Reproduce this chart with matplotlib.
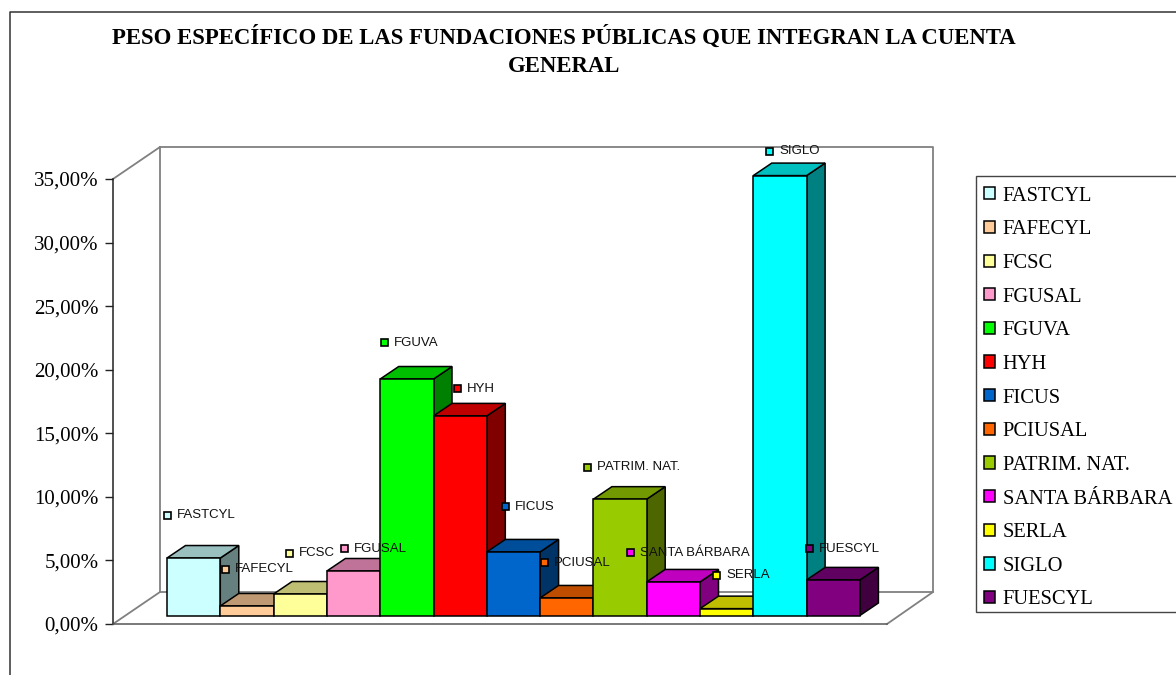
import matplotlib
matplotlib.use("Agg")
import matplotlib.pyplot as plt
import matplotlib.colors as mcolors
from matplotlib.patches import Rectangle

W, H = 1176, 675

# Values (percent)
names = ["FASTCYL", "FAFECYL", "FCSC", "FGUSAL", "FGUVA", "HYH", "FICUS",
         "PCIUSAL", "PATRIM. NAT.", "SANTA BÁRBARA", "SERLA", "SIGLO", "FUESCYL"]
values = [4.52, 0.75, 1.69, 3.50, 18.6, 15.7, 5.0, 1.38, 9.15, 2.64, 0.54, 34.6, 2.8]
colors = ["#CCFFFF", "#FFCC99", "#FFFF99", "#FF99CC", "#00FF00", "#FF0000", "#0066CC",
          "#FF6600", "#99CC00", "#FF00FF", "#FFFF00", "#00FFFF", "#800080"]
yticks = [0, 5, 10, 15, 20, 25, 30, 35]
ytick_labels = ["0,00%", "5,00%", "10,00%", "15,00%", "20,00%", "25,00%", "30,00%", "35,00%"]

# Where the data label boxes sit, in picture pixels
label_xy = [(167, 515), (225, 569), (289, 553), (344, 548), (384, 342), (457, 388), (505, 506),
            (544, 562), (587, 467), (630, 552), (716, 575), (769, 151), (809, 548)]

serif = "Liberation Serif"
sans = "Liberation Sans"

fig = plt.figure(figsize=(W / 100, H / 100), dpi=100)


def pixel_axes(z):
    a = fig.add_axes([0, 0, 1, 1], zorder=z)
    a.set_xlim(0, W)
    a.set_ylim(H, 0)
    a.axis("off")
    return a


# ===============================
# 1. BACKGROUND: FRAME AND 3D WALLS
# ===============================
back = pixel_axes(0)
back.plot([10, 10, W], [H, 12, 12], color="#333333", lw=1.1)
wall = "#808080"
back.plot([113, 160, 933, 933, 160, 160], [179, 147, 147, 592, 592, 147], color=wall, lw=1.3)
back.plot([113, 160], [624, 592], color=wall, lw=1.3)
back.plot([887, 933], [624, 592], color=wall, lw=1.3)

# legend box runs off the right edge of the picture
back.add_patch(Rectangle((976, 176), 220, 436, facecolor="white", edgecolor="#444444", lw=1))

# ===============================
# 2. BARS ON THE MAIN AXES
# ===============================
left, right, bottom, top = 113, 887, 624, 179
ax = fig.add_axes([left / W, 1 - bottom / H, (right - left) / W, (bottom - top) / H], zorder=1)
ax.patch.set_alpha(0)

bar_w = 53.3
ax.set_xlim((left - 167) / bar_w, (right - 167) / bar_w)
ax.set_ylim(0, 35)

px_y = 445 / 35
base = 8.5 / px_y
dx = 18.5 / bar_w
dy = 12.5 / px_y


def shade(c, f):
    r, g, b = mcolors.to_rgb(c)
    return (r * f, g * f, b * f)


for i, (name, val, col) in enumerate(zip(names, values, colors)):
    z = 3 + i
    ax.fill([i + 1, i + 1 + dx, i + 1 + dx, i + 1],
            [base, base + dy, base + val + dy, base + val],
            facecolor=shade(col, 0.5), edgecolor="black", lw=1.1, zorder=z, clip_on=False)
    ax.fill([i, i + dx, i + 1 + dx, i + 1],
            [base + val, base + val + dy, base + val + dy, base + val],
            facecolor=shade(col, 0.75), edgecolor="black", lw=1.1, zorder=z, clip_on=False)
    ax.bar(i, val, width=1, bottom=base, align="edge", color=col, edgecolor="black",
           lw=1.1, label=name, zorder=z, clip_on=False)

ax.set_xticks([])
ax.set_yticks(yticks)
ax.set_yticklabels(ytick_labels, family=serif, fontsize=15)
ax.tick_params(axis="y", length=5.8, width=1, pad=4.5, color="#222222")
for side in ["top", "right"]:
    ax.spines[side].set_visible(False)
ax.spines["left"].set_color("#222222")
ax.spines["bottom"].set_color("#555555")
ax.spines["left"].set_linewidth(1.1)
ax.spines["bottom"].set_linewidth(1.1)

ax.legend(loc="upper left", bbox_to_anchor=(983.6 / W, 1 - 186.6 / H), bbox_transform=fig.transFigure,
          borderaxespad=0, prop={"family": serif, "size": 14.8}, frameon=False,
          handlelength=0.54, handleheight=0.54, handletextpad=0.39, labelspacing=0.713, borderpad=0)

# ===============================
# 3. TITLE AND DATA LABELS
# ===============================
over = pixel_axes(2)
over.text(564, 37, "PESO ESPECÍFICO DE LAS FUNDACIONES PÚBLICAS QUE INTEGRAN LA CUENTA",
          family=serif, weight="bold", fontsize=16.4, ha="center", va="center")
over.text(564, 67, "GENERAL", family=serif, weight="bold", fontsize=16.4, ha="center", va="center")

for name, col, (x, y) in zip(names, colors, label_xy):
    over.add_patch(Rectangle((x - 3.5, y - 3.5), 7, 7, facecolor=col, edgecolor="black", lw=1.2))
    over.text(x + 10, y + 0.5, name, family=sans, fontsize=9.5, ha="left", va="center", color="#111111")

plt.savefig("out.png", dpi=100)
plt.close()
